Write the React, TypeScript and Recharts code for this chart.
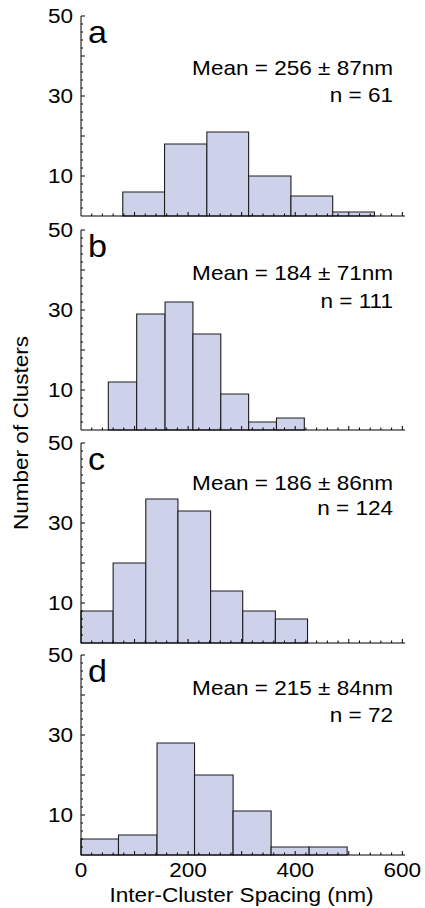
import React from 'react';
import { ComposedChart, XAxis, YAxis, ReferenceArea, Scatter } from 'recharts';

// Bin edges (nm) and counts for each panel
const edgesA = [78, 156, 235, 313, 392, 470, 548];
const countsA = [6, 18, 21, 10, 5, 1];
const edgesB = [51, 104, 157, 209, 261, 313, 365, 417];
const countsB = [12, 29, 32, 24, 9, 2, 3];
const edgesC = [0, 60, 121, 181, 242, 302, 363, 423];
const countsC = [8, 20, 36, 33, 13, 8, 6];
const edgesD = [0, 70, 142, 212, 284, 355, 426, 497];
const countsD = [4, 5, 28, 20, 11, 2, 2];

const panelLetters = ['a', 'b', 'c', 'd'];
const meanLabels = ['Mean = 256 \u00b1 87nm', 'Mean = 184 \u00b1 71nm', 'Mean = 186 \u00b1 86nm', 'Mean = 215 \u00b1 84nm'];
const nLabels = ['n = 61', 'n = 111', 'n = 124', 'n = 72'];

const xTicks = Array.from({ length: 31 }, (_, i) => i * 20);
const xLabelTicks = [0, 200, 400, 600];
const yTicks = Array.from({ length: 26 }, (_, i) => i * 2);
const yLabelTicks = [10, 30, 50];

const FONT = '"Liberation Sans", Arial, Helvetica, sans-serif';
const FS = 20.5;
const SX = 1.1;
const FILL = '#CDD2EA';
const EDGE = '#1e1e1e';

const PLOT_TOPS = [16, 230, 443, 655];
const MEAN_OFF = [59, 50, 47, 40];
const N_OFF = [86, 78, 72, 67];
const TOP_M = 22;

const SText = ({ x, y, anchor, size, dy, children }: any) => (
  <text
    transform={`translate(${x},${y}) scale(${SX},1)`}
    x={0}
    y={0}
    dy={dy}
    textAnchor={anchor}
    fontFamily={FONT}
    fontSize={size}
    fill="#000"
  >
    {children}
  </text>
);

const YTick = (props: any) => {
  const { x, y, payload } = props;
  const v = payload.value;
  const ax = x + 8;
  const len = v % 10 === 0 ? 4 : 2;
  return (
    <g>
      {v !== 0 && <line x1={ax} x2={ax + len} y1={y} y2={y} stroke="#000" strokeWidth={1} />}
      {yLabelTicks.includes(v) && (
        <SText x={x} y={y} dy="0.36em" anchor="end" size={FS}>
          {v}
        </SText>
      )}
    </g>
  );
};

const XTick = (props: any) => {
  const { x, y, payload, showLabels } = props;
  const v = payload.value;
  const ay = y - 7;
  const len = v % 100 === 0 ? 4 : 2.5;
  return (
    <g>
      {v !== 0 && <line x1={x} x2={x} y1={ay} y2={ay - len} stroke="#000" strokeWidth={1} />}
      {showLabels && xLabelTicks.includes(v) && (
        <SText x={x} y={y} dy="0.72em" anchor="middle" size={FS}>
          {v}
        </SText>
      )}
    </g>
  );
};

function Panel({ edges, counts, showLabels, top }: { edges: number[]; counts: number[]; showLabels: boolean; top: number }) {
  const data = counts.map((c, i) => ({ x: (edges[i] + edges[i + 1]) / 2, y: c }));
  const xh = showLabels ? 45 : 5;
  const H = TOP_M + 200 + xh + 2;
  return (
    <div style={{ position: 'absolute', left: 0, top: top - TOP_M }}>
      <ComposedChart width={425} height={H} data={data} margin={{ top: TOP_M, right: 20, bottom: 2, left: 41 }}>
        <XAxis
          type="number"
          dataKey="x"
          domain={[0, 605]}
          ticks={xTicks}
          interval={0}
          tickSize={0}
          tickMargin={7}
          height={xh}
          allowDataOverflow
          axisLine={{ stroke: '#000', strokeWidth: 1 }}
          tick={(p: any) => <XTick {...p} showLabels={showLabels} />}
        />
        <YAxis
          type="number"
          dataKey="y"
          domain={[0, 50]}
          ticks={yTicks}
          interval={0}
          width={40}
          tickSize={0}
          tickMargin={8}
          allowDataOverflow
          axisLine={{ stroke: '#000', strokeWidth: 1 }}
          tick={(p: any) => <YTick {...p} />}
        />
        {counts.map((c, i) => (
          <ReferenceArea
            key={i}
            x1={edges[i]}
            x2={edges[i + 1]}
            y1={0}
            y2={c}
            fill={FILL}
            fillOpacity={1}
            stroke={EDGE}
            strokeWidth={1.1}
            ifOverflow="visible"
          />
        ))}
        <Scatter dataKey="y" isAnimationActive={false} shape={() => <g />} />
      </ComposedChart>
    </div>
  );
}

export default function App() {
  const panels = [
    { edges: edgesA, counts: countsA },
    { edges: edgesB, counts: countsB },
    { edges: edgesC, counts: countsC },
    { edges: edgesD, counts: countsD },
  ];
  return (
    <div style={{ position: 'absolute', left: 0, top: 0, width: 425, height: 908, background: '#fff', overflow: 'hidden' }}>
      {panels.map((p, i) => (
        <Panel key={i} edges={p.edges} counts={p.counts} showLabels={i === 3} top={PLOT_TOPS[i]} />
      ))}
      <svg width={425} height={908} style={{ position: 'absolute', left: 0, top: 0, pointerEvents: 'none' }}>
        {PLOT_TOPS.map((t, i) => (
          <g key={i}>
            <SText x={88} y={t + 27} size={31} anchor="start">{panelLetters[i]}</SText>
            <SText x={393} y={t + MEAN_OFF[i]} size={FS} anchor="end">{meanLabels[i]}</SText>
            <SText x={393} y={t + N_OFF[i]} size={FS} anchor="end">{nLabels[i]}</SText>
          </g>
        ))}
        <SText x={241.5} y={902} size={FS} anchor="middle">
          Inter-Cluster Spacing (nm)
        </SText>
        <text
          x={0}
          y={0}
          transform={`translate(21,433) rotate(-90) scale(${SX},1)`}
          fontFamily={FONT}
          fontSize={FS}
          textAnchor="middle"
          dominantBaseline="central"
          fill="#000"
        >
          Number of Clusters
        </text>
      </svg>
    </div>
  );
}
